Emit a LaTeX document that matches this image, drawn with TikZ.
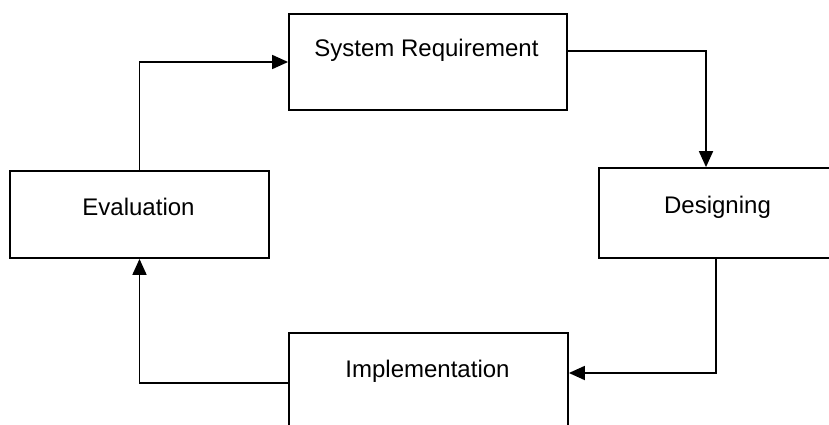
\documentclass[tikz,border=0pt]{standalone}
\usepackage{fontspec}
\setmainfont{Liberation Sans}
\usetikzlibrary{arrows.meta}
\begin{document}
\begin{tikzpicture}[x=1pt,y=-1pt,
  box/.style={draw, line width=1.8pt, rectangle, inner sep=0pt},
  lbl/.style={anchor=base, inner sep=0pt, font=\fontsize{24}{29}\selectfont},
  link/.style={line width=1.8pt, -{Triangle[length=16pt,width=14pt]}}]
  \clip (0,0) rectangle (829,425);
  % process stages
  \node[box, minimum width=278pt, minimum height=96pt] (sysreq) at (428,62) {};
  \node[box, minimum width=259pt, minimum height=87pt] (eval) at (139.5,214.5) {};
  \node[box, minimum width=237pt, minimum height=90pt] (design) at (717.5,213) {};
  \node[box, minimum width=279pt, minimum height=100pt] (impl) at (428.5,383) {};
  % stage names
  \node[lbl] (sysreqtext) at (426.5,57) {System Requirement};
  \node[lbl] (evaltext) at (138.5,215) {Evaluation};
  \node[lbl] (designtext) at (717.5,213) {Designing};
  \node[lbl] (impltext) at (427.5,377) {Implementation};
  % cycle connectors
  \draw[link] (eval.north) |- (sysreq.west);
  \draw[link] ([yshift=11pt]sysreq.east) -| ([xshift=-11.5pt]design.north);
  \draw[link] ([xshift=-1.5pt]design.south) |- ([yshift=10pt]impl.east);
  \draw[link] (impl.west) -| (eval.south);
\end{tikzpicture}
\end{document}
